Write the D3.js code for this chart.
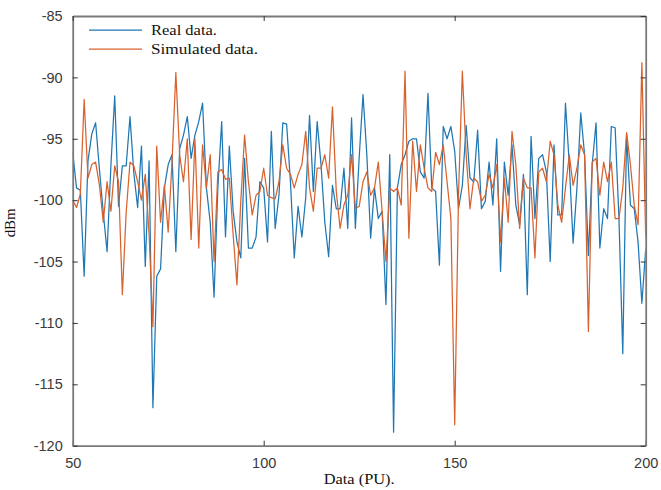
<!DOCTYPE html>
<html>
<head>
<meta charset="utf-8">
<script src="https://cdn.jsdelivr.net/npm/d3@7"></script>
<style>
  body { margin: 0; background: #fff; }
  svg { display: block; }
</style>
</head>
<body>
<svg id="chart" width="661" height="490"></svg>
<script>
// x positions: data points 50..200
const xStart = 50;

// Real data (blue)
const realData = [
  -96.1, -99.0, -99.2, -106.2, -96.8, -94.6, -93.7, -97.5, -101.0, -104.2,
  -97.2, -91.5, -100.5, -97.2, -97.2, -93.2, -97.8, -100.6, -95.6, -105.4,
  -96.8, -116.9, -106.2, -105.6, -99.0, -97.1, -96.3, -104.2, -95.8, -94.7,
  -93.2, -96.6, -94.7, -93.6, -92.1, -99.0, -101.8, -107.9, -99.0, -93.6,
  -103.0, -95.6, -100.9, -103.4, -104.7, -96.6, -103.9, -103.9, -103.0, -98.5,
  -99.0, -103.4, -94.4, -102.3, -99.6, -93.7, -93.8, -98.5, -104.7, -100.5,
  -103.0, -99.8, -93.1, -99.3, -93.6, -97.1, -101.8, -104.6, -98.8, -100.7,
  -100.7, -97.4, -102.3, -93.3, -102.3, -96.5, -91.4, -96.3, -103.1, -99.0,
  -101.5, -100.9, -108.5, -96.3, -118.9, -99.0, -97.1, -96.3, -95.2, -95.0,
  -95.0, -97.7, -98.2, -91.3, -99.0, -99.3, -105.3, -94.0, -95.0, -94.0,
  -96.0, -100.7, -98.8, -93.9, -98.2, -98.5, -94.3, -100.7, -100.1, -96.9,
  -100.4, -95.0, -105.8, -96.9, -99.6, -95.5, -100.4, -102.0, -97.9, -107.7,
  -94.8, -101.5, -96.6, -96.3, -97.7, -105.0, -95.5, -101.2, -101.2, -92.1,
  -97.1, -103.5, -99.0, -92.9, -96.3, -104.5, -97.1, -93.7, -103.9, -100.7,
  -101.5, -94.0, -94.1, -101.5, -112.5, -94.7, -100.4, -100.7, -103.4, -108.4,
  -104.0
];

// Simulated data (orange)
const simData = [
  -100.0, -100.6, -99.5, -91.8, -98.2, -97.1, -96.9, -98.8, -101.8, -98.5,
  -100.9, -97.2, -98.5, -107.7, -101.0, -96.9, -97.2, -98.5, -100.0, -97.9,
  -102.8, -110.3, -95.6, -101.8, -98.8, -102.6, -96.9, -89.6, -96.3, -98.5,
  -95.0, -103.2, -95.0, -103.9, -95.5, -99.0, -96.3, -105.0, -97.7, -97.5,
  -98.3, -98.2, -102.8, -106.9, -100.1, -94.7, -98.5, -101.2, -99.6, -99.3,
  -97.4, -99.6, -99.8, -99.9, -98.5, -95.5, -97.4, -97.9, -99.0, -97.9,
  -97.1, -94.4, -99.0, -100.9, -97.4, -97.4, -96.3, -98.2, -92.4, -99.3,
  -102.3, -100.4, -99.6, -96.3, -100.7, -100.5, -98.5, -97.7, -99.6, -99.0,
  -96.9, -100.9, -105.0, -99.0, -99.3, -99.0, -100.4, -89.5, -103.1, -95.2,
  -99.3, -95.5, -97.4, -99.0, -99.3, -96.1, -97.1, -95.5, -98.5, -101.5,
  -118.3, -99.6, -89.5, -96.3, -100.7, -98.2, -98.5, -100.1, -99.6, -97.9,
  -99.0, -97.1, -103.4, -98.2, -101.8, -94.4, -97.1, -102.3, -98.2, -99.0,
  -99.0, -104.7, -97.7, -97.4, -98.5, -95.2, -96.3, -100.4, -101.8, -99.0,
  -96.3, -98.8, -97.4, -95.5, -96.3, -110.7, -96.9, -96.6, -99.6, -96.9,
  -98.5, -96.9, -101.5, -101.5, -99.0, -94.5, -97.1, -100.4, -102.0, -88.8,
  -103.0
];

const xTicks = [50, 100, 150, 200];
const yTicks = [-120, -115, -110, -105, -100, -95, -90, -85];
const seriesNames = ["Real data.", "Simulated data."];
const seriesColors = ["#1f77b4", "#d8622e"];

const svg = d3.select("#chart");
const plotLeft = 72.7, plotRight = 645.7, plotTop = 16, plotBottom = 445.7;

const x = d3.scaleLinear().domain([50, 200]).range([plotLeft, plotRight]);
const y = d3.scaleLinear().domain([-120, -85]).range([plotBottom, plotTop]);

svg.append("clipPath").attr("id", "plotclip")
  .append("rect")
  .attr("x", plotLeft).attr("y", plotTop)
  .attr("width", plotRight - plotLeft).attr("height", plotBottom - plotTop);

const line = d3.line()
  .x((d, i) => x(xStart + i))
  .y(d => y(d));

// lines
[realData, simData].forEach((series, k) => {
  svg.append("path")
    .datum(series)
    .attr("clip-path", "url(#plotclip)")
    .attr("fill", "none")
    .attr("stroke", seriesColors[k])
    .attr("stroke-width", 1.25)
    .attr("stroke-linejoin", "round")
    .attr("d", line);
});

// axes (MATLAB-style box with inward ticks)
const axisColor = "#7a7a7a";
const tickFont = "'Liberation Sans', Arial, sans-serif";
const plain = d => String(d); // hyphen minus, like the original

const xAxis = svg.append("g")
  .attr("transform", `translate(0,${plotBottom})`)
  .call(d3.axisBottom(x).tickValues(xTicks).tickFormat(plain).tickSizeInner(-5).tickSizeOuter(0).tickPadding(12));
const yAxis = svg.append("g")
  .attr("transform", `translate(${plotLeft},0)`)
  .call(d3.axisLeft(y).tickValues(yTicks).tickFormat(plain).tickSizeInner(-5).tickSizeOuter(0).tickPadding(10));
const xAxisTop = svg.append("g")
  .attr("transform", `translate(0,${plotTop})`)
  .call(d3.axisTop(x).tickValues(xTicks).tickSizeInner(-5).tickSizeOuter(0).tickFormat(""));
const yAxisRight = svg.append("g")
  .attr("transform", `translate(${plotRight},0)`)
  .call(d3.axisRight(y).tickValues(yTicks).tickSizeInner(-5).tickSizeOuter(0).tickFormat(""));

[xAxis, yAxis, xAxisTop, yAxisRight].forEach(g => {
  g.select(".domain").attr("stroke", axisColor).attr("stroke-width", 1.8);
  g.selectAll(".tick line").attr("stroke", "#333").attr("stroke-width", 1);
  g.selectAll(".tick text")
    .attr("fill", "#3a3a3a")
    .style("font-family", tickFont)
    .style("font-size", "14.5px");
});

// axis labels
const serif = "'Liberation Serif', 'Times New Roman', serif";
svg.append("text")
  .attr("x", (plotLeft + plotRight) / 2)
  .attr("y", 484)
  .attr("text-anchor", "middle")
  .attr("textLength", 71)
  .attr("lengthAdjust", "spacingAndGlyphs")
  .style("font-family", serif)
  .style("font-size", "14.5px")
  .attr("fill", "#111")
  .text("Data (PU).");

svg.append("text")
  .attr("transform", `translate(15,${(plotTop + plotBottom) / 2 - 8}) rotate(-90)`)
  .attr("text-anchor", "middle")
  .attr("textLength", 29)
  .attr("lengthAdjust", "spacingAndGlyphs")
  .style("font-family", serif)
  .style("font-size", "14px")
  .attr("fill", "#111")
  .text("dBm");

// legend
const legendWidths = [66, 107];
const legend = svg.append("g");
seriesNames.forEach((name, i) => {
  const ly = 30 + i * 19;
  legend.append("line")
    .attr("x1", 89).attr("x2", 142)
    .attr("y1", ly).attr("y2", ly)
    .attr("stroke", seriesColors[i])
    .attr("stroke-width", 1.25);
  legend.append("text")
    .attr("x", 151).attr("y", ly + 5)
    .attr("textLength", legendWidths[i])
    .attr("lengthAdjust", "spacingAndGlyphs")
    .style("font-family", serif)
    .style("font-size", "15.5px")
    .attr("fill", "#111")
    .text(name);
});
</script>
</body>
</html>
